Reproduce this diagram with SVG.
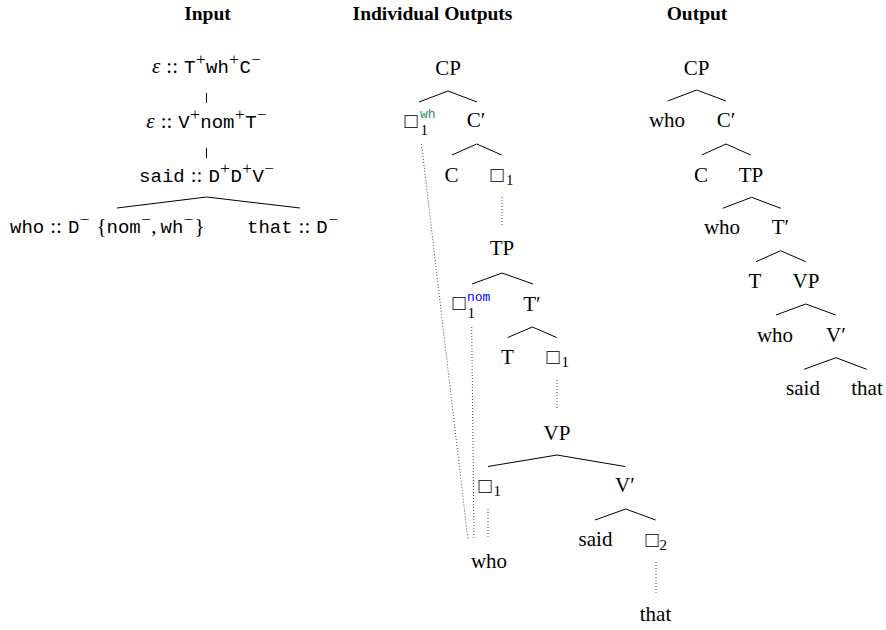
<svg xmlns="http://www.w3.org/2000/svg" width="886" height="630" viewBox="0 0 886 630">
<style>
text{font-family:"Liberation Serif","Times New Roman",serif;font-size:21px;fill:#000}
.c{text-anchor:middle}
.h{font-weight:bold;font-size:19.5px}
.m{font-family:"Liberation Mono","Courier New",monospace;font-size:19px}
.sp{font-size:17px}
.i{font-style:italic}
.sq{font-family:"DejaVu Sans",sans-serif;font-size:17px;fill:#333}
.sb{font-size:15px}
.wh{font-family:"Liberation Mono",monospace;font-size:13px;fill:#2e8b57}
.nom{font-family:"Liberation Mono",monospace;font-size:13px;fill:#0000ff}
.e{stroke:#000;stroke-width:1;fill:none}
.d{stroke:#444;stroke-width:1;stroke-dasharray:1 2;fill:none}
</style>
<g id="headers">
<text class="c h" x="207.5" y="20">Input</text>
<text class="c h" x="432.5" y="20">Individual Outputs</text>
<text class="c h" x="697" y="20">Output</text>
</g>
<g id="connectors">
<line class="e" x1="206.5" y1="93" x2="206.5" y2="103"/>
<line class="e" x1="206.5" y1="148" x2="206.5" y2="158"/>
<polyline class="e" points="117,208 206.5,197 300,208"/>
<polyline class="e" points="419,102 448,91 477,102"/>
<polyline class="e" points="452,155 476.7,144 501.7,155"/>
<line class="d" x1="502" y1="197" x2="502" y2="227"/>
<polyline class="e" points="472,284 502,273 533,284"/>
<polyline class="e" points="507.7,337.5 532.3,327 556.7,337.5"/>
<line class="d" x1="557" y1="380" x2="557" y2="410"/>
<polyline class="e" points="488,466.5 557,455 625,466.5"/>
<polyline class="e" points="595,520 625.7,509 655.7,520"/>
<line class="d" x1="656" y1="562" x2="656" y2="593"/>
<line class="d" x1="421.5" y1="144" x2="468" y2="540"/>
<line class="d" x1="471.7" y1="327" x2="474" y2="539"/>
<line class="d" x1="488" y1="509" x2="488" y2="539"/>
<polyline class="e" points="667.7,101 696.7,90 726,101"/>
<polyline class="e" points="701.7,155 726,144 750.7,155"/>
<polyline class="e" points="722.7,208.3 751.7,197.3 780.7,208.3"/>
<polyline class="e" points="756,261.7 780.7,250.7 805.7,261.7"/>
<polyline class="e" points="776,315 805.7,304 835.7,315"/>
<polyline class="e" points="804,369.3 836,357.7 866.7,369.3"/>
</g>
<g id="in-c">
<text class="c" x="206.5" y="73"><tspan class="i">ε</tspan><tspan dx="6">::</tspan><tspan class="m" dx="6">T</tspan><tspan class="sp" dx="0.5" dy="-8">+</tspan><tspan class="m" dx="0.5" dy="8">wh</tspan><tspan class="sp" dx="0.5" dy="-8">+</tspan><tspan class="m" dx="0.5" dy="8">C</tspan><tspan class="sp" dx="0.5" dy="-8">−</tspan></text>
</g>
<g id="in-t">
<text class="c" x="206.5" y="128"><tspan class="i">ε</tspan><tspan dx="6">::</tspan><tspan class="m" dx="6">V</tspan><tspan class="sp" dx="0.5" dy="-8">+</tspan><tspan class="m" dx="0.5" dy="8">nom</tspan><tspan class="sp" dx="0.5" dy="-8">+</tspan><tspan class="m" dx="0.5" dy="8">T</tspan><tspan class="sp" dx="0.5" dy="-8">−</tspan></text>
</g>
<g id="in-said">
<text class="c" x="206.5" y="182"><tspan class="m">said</tspan><tspan dx="6">::</tspan><tspan class="m" dx="6">D</tspan><tspan class="sp" dx="0.5" dy="-8">+</tspan><tspan class="m" dx="0.5" dy="8">D</tspan><tspan class="sp" dx="0.5" dy="-8">+</tspan><tspan class="m" dx="0.5" dy="8">V</tspan><tspan class="sp" dx="0.5" dy="-8">−</tspan></text>
</g>
<g id="in-who">
<text x="10" y="233"><tspan class="m">who</tspan><tspan dx="6">::</tspan><tspan class="m" dx="6">D</tspan><tspan class="sp" dx="0.5" dy="-8">−</tspan><tspan dx="7" dy="8">{</tspan><tspan class="m">nom</tspan><tspan class="sp" dx="0.5" dy="-8">−</tspan><tspan dx="0.5" dy="8">,</tspan><tspan class="m" dx="4">wh</tspan><tspan class="sp" dx="0.5" dy="-8">−</tspan><tspan dx="1" dy="8">}</tspan></text>
</g>
<g id="in-that">
<text x="247" y="233"><tspan class="m">that</tspan><tspan dx="6">::</tspan><tspan class="m" dx="6">D</tspan><tspan class="sp" dx="0.5" dy="-8">−</tspan></text>
</g>
<g id="m-cp"><text class="c" x="448" y="75">CP</text></g>
<g id="m-wh"><text class="sq" x="402.7" y="125.5">□</text><text class="wh" x="420" y="117.5">wh</text><text class="sb" x="420.5" y="134.5">1</text></g>
<g id="m-cbar"><text class="c" x="476" y="127">C′</text></g>
<g id="m-c"><text class="c" x="451.5" y="182">C</text></g>
<g id="m-sq1"><text class="sq" x="488.7" y="179.5">□</text><text class="sb" x="506" y="185">1</text></g>
<g id="m-tp"><text class="c" x="502" y="255">TP</text></g>
<g id="m-nom"><text class="sq" x="450.7" y="307.5">□</text><text class="nom" x="467" y="301">nom</text><text class="sb" x="467.5" y="318">1</text></g>
<g id="m-tbar"><text class="c" x="532" y="311">T′</text></g>
<g id="m-t"><text class="c" x="507.5" y="364">T</text></g>
<g id="m-sq2"><text class="sq" x="544.7" y="361.5">□</text><text class="sb" x="561.5" y="367">1</text></g>
<g id="m-vp"><text class="c" x="557" y="440">VP</text></g>
<g id="m-sq3"><text class="sq" x="476.7" y="490.5">□</text><text class="sb" x="493.5" y="496">1</text></g>
<g id="m-vbar"><text class="c" x="625" y="492">V′</text></g>
<g id="m-said"><text class="c" x="595.5" y="546">said</text></g>
<g id="m-sq4"><text class="sq" x="643.7" y="544.5">□</text><text class="sb" x="659.5" y="550">2</text></g>
<g id="m-that"><text class="c" x="655.5" y="621">that</text></g>
<g id="m-who"><text class="c" x="489" y="568">who</text></g>
<g id="o-cp"><text class="c" x="696.7" y="75">CP</text></g>
<g id="o-who1"><text class="c" x="667" y="127">who</text></g>
<g id="o-cbar"><text class="c" x="726" y="127">C′</text></g>
<g id="o-c"><text class="c" x="701" y="182">C</text></g>
<g id="o-tp"><text class="c" x="751" y="182">TP</text></g>
<g id="o-who2"><text class="c" x="722" y="234">who</text></g>
<g id="o-tbar"><text class="c" x="780.5" y="234">T′</text></g>
<g id="o-t"><text class="c" x="755" y="288">T</text></g>
<g id="o-vp"><text class="c" x="806" y="288">VP</text></g>
<g id="o-who3"><text class="c" x="775" y="342">who</text></g>
<g id="o-vbar"><text class="c" x="836" y="342">V′</text></g>
<g id="o-said"><text class="c" x="803" y="395">said</text></g>
<g id="o-that"><text class="c" x="867" y="395">that</text></g>
</svg>
